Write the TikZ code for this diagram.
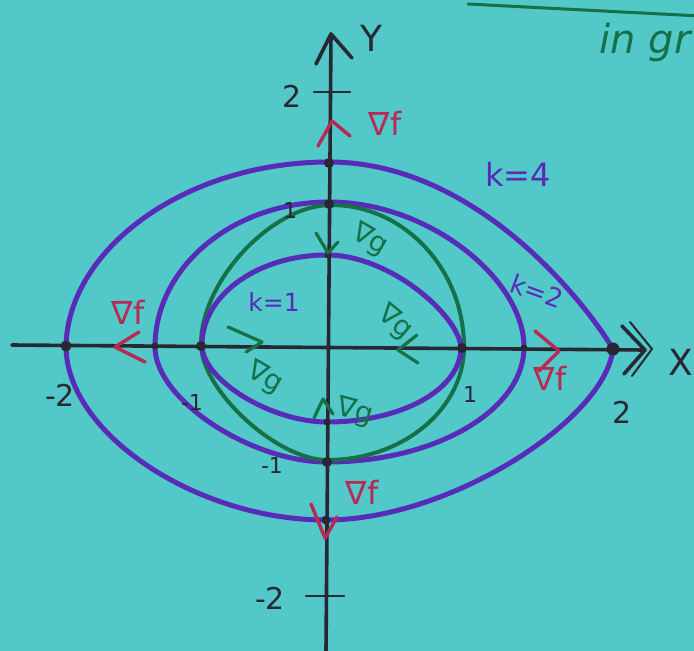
\documentclass[tikz,border=0pt]{standalone}
\usepackage{fontspec}
\setmainfont{DejaVu Sans}
\definecolor{bg}{RGB}{82,200,200}
\definecolor{purp}{RGB}{88,44,184}
\definecolor{grn}{RGB}{22,112,72}
\definecolor{redd}{RGB}{186,40,84}
\definecolor{ink}{RGB}{40,40,52}
\begin{document}
\begin{tikzpicture}[x=1pt,y=-1pt,line cap=round,line join=round,
  axis/.style={draw=ink,line width=3.6pt},
  lvl/.style={draw=purp,line width=5pt},
  circ/.style={draw=grn,line width=4pt},
  fgrad/.style={draw=redd,line width=3.4pt},
  ggrad/.style={draw=grn,line width=3.2pt},
  lab/.style={text=ink,font=\fontsize{30}{30}\selectfont},
  klab/.style={text=purp,font=\fontsize{30}{30}\selectfont},
  flab/.style={text=redd,font=\fontsize{32}{32}\selectfont},
  glab/.style={text=grn,font=\fontsize{28}{28}\selectfont},
  dot/.style={circle,fill=ink,inner sep=0pt,minimum size=#1}]
\fill[bg] (0,0) rectangle (694,651);
\useasboundingbox (0,0) rectangle (694,651);
\clip (0,0) rectangle (694,651);
% top text fragment
\draw[grn,line width=3pt] (468,4) -- (700,16);
\node[anchor=base west,text=grn,font=\fontsize{40}{40}\selectfont\itshape] (ingr) at (596,53) {in gr};
% level curve k=4
\draw[lvl] (613,349) .. controls (590,310) and (480,162) .. (329,162)
  .. controls (184,162) and (68,250) .. (66,346)
  .. controls (66,433) and (196,520) .. (326,520)
  .. controls (450,520) and (605,420) .. cycle;
% level curve k=2
\draw[lvl] (524,347) .. controls (524,280) and (430,202) .. (329,202)
  .. controls (233,202) and (155,267) .. (155,347)
  .. controls (155,399) and (250,462) .. (327,462)
  .. controls (436,462) and (524,410) .. cycle;
% constraint circle
\draw[circ] (464,347) .. controls (464,269) and (404,205) .. (331,205)
  .. controls (272,205) and (201,281) .. (201,344)
  .. controls (201,390) and (277,460) .. (327,460)
  .. controls (403,460) and (464,409) .. cycle;
% level curve k=1
\draw[lvl] (461,347) .. controls (458,315) and (390,255) .. (327,255)
  .. controls (258,255) and (202,295) .. (202,345)
  .. controls (202,380) and (271,422) .. (327,422)
  .. controls (401,422) and (461,390) .. cycle;
% axes
\coordinate (xl) at (12,345);
\coordinate (xr) at (645,350);
\coordinate (yt) at (331,34);
\coordinate (yb) at (326,651);
\draw[axis] (xl) -- (xr);
\draw[axis] (yt) -- (yb);
\draw[axis] (622,326) -- (645,350) -- (624,374);
\draw[axis,line width=2pt] (630,322) -- (652,349) -- (632,376);
\draw[axis] (316,64) -- (331,34) -- (352,58);
% ticks
\draw[axis,line width=2.5pt] (314,92) -- (350,92);
\draw[axis,line width=2.5pt] (306,596) -- (344,596);
% tick labels
\node[lab] (y2) at (292,96) {2};
\node[lab,font=\fontsize{22}{22}\selectfont] (y1) at (290,210) {1};
\node[lab,font=\fontsize{22}{22}\selectfont] (ym1) at (272,465) {-1};
\node[lab] (ym2) at (270,598) {-2};
\node[lab] (xm2) at (60,395) {-2};
\node[lab,font=\fontsize{22}{22}\selectfont] (xm1) at (192,402) {-1};
\node[lab,font=\fontsize{22}{22}\selectfont] (x1) at (470,394) {1};
\node[lab] (x2) at (622,412) {2};
\node[lab,font=\fontsize{36}{36}\selectfont] (X) at (681,362) {X};
\node[lab,font=\fontsize{36}{36}\selectfont] (Y) at (371,38) {Y};
% intersection dots
\foreach \d/\s/\p in {a/11/{(66,346)},b/7/{(155,346)},c/10/{(201,346)},e/10/{(462,348)},f/7/{(524,348)},g/13/{(613,349)},h/10/{(329,163)},i/10/{(329,204)},j/7/{(328,255)},k/7/{(327,422)},l/10/{(327,462)},m/9/{(326,520)}}
  \node[dot=\s pt] (dot\d) at \p {};
% grad f chevrons
\draw[fgrad] (318,146) -- (332,121) -- (350,136);
\draw[fgrad] (139,332) -- (115,347) -- (145,362);
\draw[fgrad] (535,331) -- (559,351) -- (539,371);
\draw[fgrad] (311,504) -- (325,538) -- (337,517);
% grad f labels
\node[flab] (f1) at (385,123) {∇f};
\node[flab] (f2) at (128,312) {∇f};
\node[flab] (f3) at (550,378) {∇f};
\node[flab] (f4) at (362,492) {∇f};
% grad g chevrons
\draw[ggrad] (316,233) -- (328,253) -- (338,242);
\draw[ggrad] (417,335) -- (398,350) -- (418,363);
\draw[ggrad] (228,327) -- (262,342) -- (246,352);
\draw[ggrad] (314,418) -- (323,399) -- (333,414);
% grad g labels
\node[glab,rotate=-30] (g1) at (370,240) {∇g};
\node[glab,rotate=-40] (g2) at (395,323) {∇g};
\node[glab,rotate=-30] (g3) at (265,378) {∇g};
\node[glab,rotate=-15] (g4) at (355,412) {∇g};
% k labels
\node[klab,font=\fontsize{32}{32}\selectfont] (k4) at (518,174) {k=4};
\node[klab,rotate=-20,font=\fontsize{26}{26}\selectfont] (k2) at (537,291) {k=2};
\node[klab,font=\fontsize{25}{25}\selectfont] (k1) at (274,302) {k=1};
\end{tikzpicture}
\end{document}
